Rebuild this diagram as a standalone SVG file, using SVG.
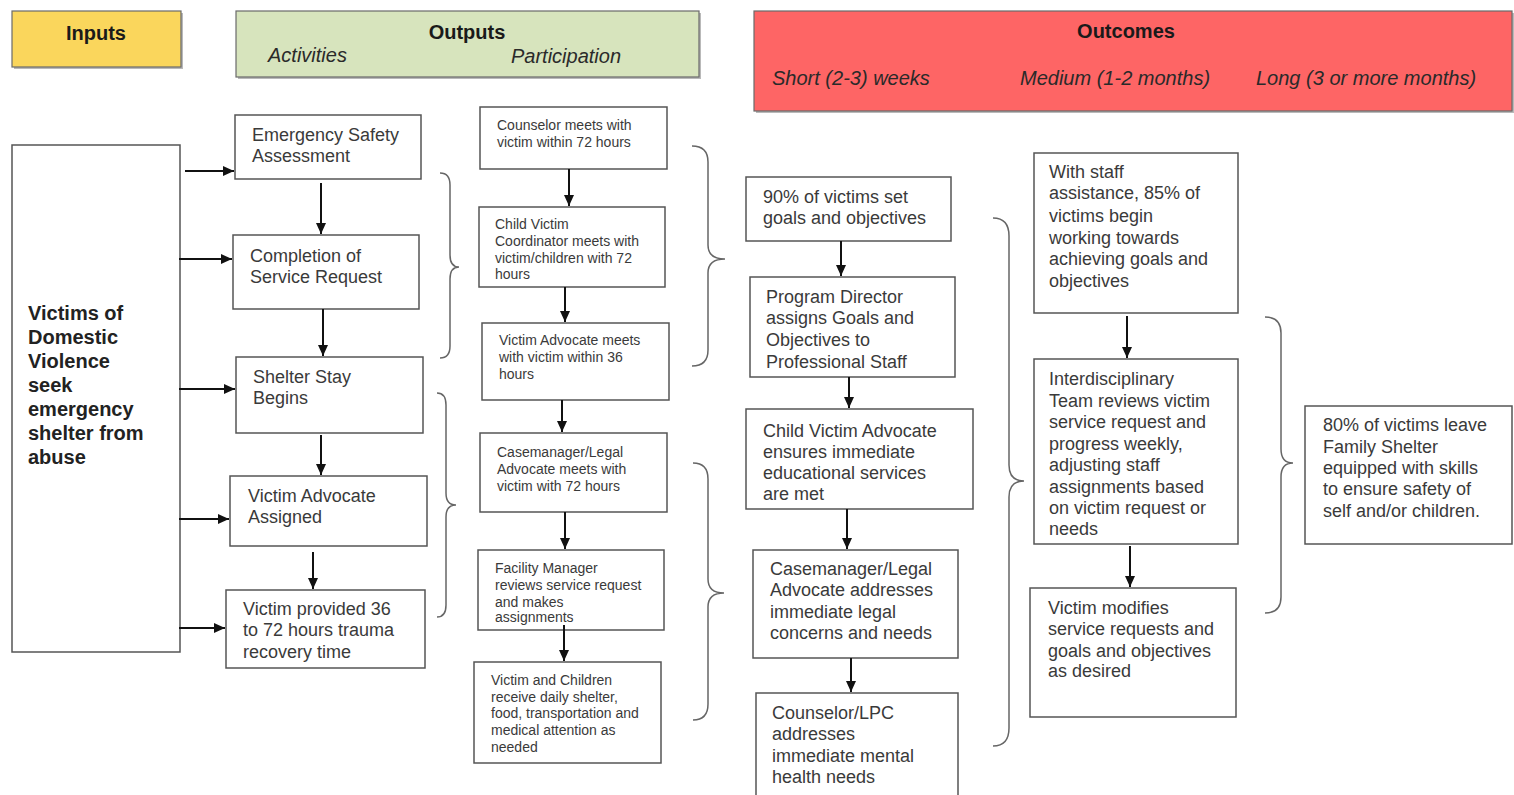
<svg xmlns="http://www.w3.org/2000/svg" width="1514" height="795" viewBox="0 0 1514 795">
<defs>
<style>
.box{fill:#fff;stroke:#555;stroke-width:1.5}
.t{font-family:"Liberation Sans",Arial,sans-serif;font-size:18px;fill:#3a3a3a}
.s{font-family:"Liberation Sans",Arial,sans-serif;font-size:14px;fill:#3a3a3a}
.h{font-family:"Liberation Sans",Arial,sans-serif;font-size:20px;font-weight:bold;fill:#1a1a1a}
.i{font-family:"Liberation Sans",Arial,sans-serif;font-size:20px;font-style:italic;fill:#2a2a2a}
.vb{font-family:"Liberation Sans",Arial,sans-serif;font-size:20px;font-weight:bold;fill:#222}
.ar{stroke:#111;stroke-width:2;fill:none;marker-end:url(#ah)}
.br{stroke:#666;stroke-width:1.5;fill:none}
.sh{fill:#8a8a8a;opacity:0.6}
</style>
<marker id="ah" markerUnits="userSpaceOnUse" markerWidth="11" markerHeight="10" refX="11" refY="5" orient="auto">
<path d="M0,0 L11,5 L0,10 z" fill="#111"/>
</marker>
</defs>
<rect width="1514" height="795" fill="#fff"/>

<g id="header-inputs">
<rect class="sh" x="14" y="13" width="169" height="56"/>
<rect x="12" y="11" width="169" height="56" fill="#fad65c" stroke="#6a6a6a" stroke-width="1.2"/>
<text class="h" x="96" y="40" text-anchor="middle">Inputs</text>
</g>
<g id="header-outputs">
<rect class="sh" x="238" y="13" width="463" height="66"/>
<rect x="236" y="11" width="463" height="66" fill="#d7e4bd" stroke="#6a6a6a" stroke-width="1.2"/>
<text class="h" x="467" y="39" text-anchor="middle">Outputs</text>
<text class="i" x="268" y="62">Activities</text>
<text class="i" x="511" y="63">Participation</text>
</g>
<g id="header-outcomes">
<rect class="sh" x="756" y="13" width="758" height="100"/>
<rect x="754" y="11" width="758" height="100" fill="#fe6565" stroke="#6a6a6a" stroke-width="1.2"/>
<text class="h" x="1126" y="38" text-anchor="middle">Outcomes</text>
<text class="i" x="772" y="85">Short (2-3) weeks</text>
<text class="i" x="1020" y="85">Medium (1-2 months)</text>
<text class="i" x="1256" y="85">Long (3 or more months)</text>
</g>

<g id="victims">
<rect class="box" x="12" y="145" width="168" height="507"/>
<text class="vb"><tspan x="28" y="320">Victims of</tspan><tspan x="28" y="344">Domestic</tspan><tspan x="28" y="368">Violence</tspan><tspan x="28" y="392">seek</tspan><tspan x="28" y="416">emergency</tspan><tspan x="28" y="440">shelter from</tspan><tspan x="28" y="464">abuse</tspan></text>
</g>

<g id="a-esa">
<rect class="box" x="235" y="115" width="186" height="64"/>
<text class="t"><tspan x="252" y="141">Emergency Safety</tspan><tspan x="252" y="162">Assessment</tspan></text>
</g>
<g id="a-completion">
<rect class="box" x="233" y="235" width="186" height="74"/>
<text class="t"><tspan x="250" y="262">Completion of</tspan><tspan x="250" y="283">Service Request</tspan></text>
</g>
<g id="a-shelter">
<rect class="box" x="236" y="357" width="187" height="76"/>
<text class="t"><tspan x="253" y="383">Shelter Stay</tspan><tspan x="253" y="404">Begins</tspan></text>
</g>
<g id="a-advocate">
<rect class="box" x="230" y="476" width="197" height="70"/>
<text class="t"><tspan x="248" y="502">Victim Advocate</tspan><tspan x="248" y="523">Assigned</tspan></text>
</g>
<g id="a-recovery">
<rect class="box" x="226" y="590" width="199" height="78"/>
<text class="t"><tspan x="243" y="615">Victim provided 36</tspan><tspan x="243" y="636">to 72 hours trauma</tspan><tspan x="243" y="658">recovery time</tspan></text>
</g>

<g id="p-counselor">
<rect class="box" x="480" y="107" width="187" height="62"/>
<text class="s"><tspan x="497" y="130">Counselor meets with</tspan><tspan x="497" y="147">victim within 72 hours</tspan></text>
</g>
<g id="p-child">
<rect class="box" x="479" y="207" width="186" height="80"/>
<text class="s"><tspan x="495" y="229">Child Victim</tspan><tspan x="495" y="246">Coordinator meets with</tspan><tspan x="495" y="263">victim/children with 72</tspan><tspan x="495" y="279">hours</tspan></text>
</g>
<g id="p-advocate">
<rect class="box" x="482" y="323" width="187" height="77"/>
<text class="s"><tspan x="499" y="345">Victim Advocate meets</tspan><tspan x="499" y="362">with victim within 36</tspan><tspan x="499" y="379">hours</tspan></text>
</g>
<g id="p-casemanager">
<rect class="box" x="480" y="433" width="187" height="79"/>
<text class="s"><tspan x="497" y="457">Casemanager/Legal</tspan><tspan x="497" y="474">Advocate meets with</tspan><tspan x="497" y="491">victim with 72 hours</tspan></text>
</g>
<g id="p-facility">
<rect class="box" x="478" y="550" width="186" height="80"/>
<text class="s"><tspan x="495" y="573">Facility Manager</tspan><tspan x="495" y="590">reviews service request</tspan><tspan x="495" y="607">and makes</tspan><tspan x="495" y="622">assignments</tspan></text>
</g>
<g id="p-daily">
<rect class="box" x="474" y="662" width="187" height="101"/>
<text class="s"><tspan x="491" y="685">Victim and Children</tspan><tspan x="491" y="702">receive daily shelter,</tspan><tspan x="491" y="718">food, transportation and</tspan><tspan x="491" y="735">medical attention as</tspan><tspan x="491" y="752">needed</tspan></text>
</g>

<g id="s-goals">
<rect class="box" x="746" y="177" width="205" height="64"/>
<text class="t"><tspan x="763" y="203">90% of victims set</tspan><tspan x="763" y="224">goals and objectives</tspan></text>
</g>
<g id="s-director">
<rect class="box" x="750" y="277" width="205" height="100"/>
<text class="t"><tspan x="766" y="303">Program Director</tspan><tspan x="766" y="324">assigns Goals and</tspan><tspan x="766" y="346">Objectives to</tspan><tspan x="766" y="368">Professional Staff</tspan></text>
</g>
<g id="s-child">
<rect class="box" x="746" y="409" width="227" height="100"/>
<text class="t"><tspan x="763" y="437">Child Victim Advocate</tspan><tspan x="763" y="458">ensures immediate</tspan><tspan x="763" y="479">educational services</tspan><tspan x="763" y="500">are met</tspan></text>
</g>
<g id="s-legal">
<rect class="box" x="753" y="550" width="205" height="108"/>
<text class="t"><tspan x="770" y="575">Casemanager/Legal</tspan><tspan x="770" y="596">Advocate addresses</tspan><tspan x="770" y="618">immediate legal</tspan><tspan x="770" y="639">concerns and needs</tspan></text>
</g>
<g id="s-lpc">
<rect class="box" x="756" y="693" width="202" height="115"/>
<text class="t"><tspan x="772" y="719">Counselor/LPC</tspan><tspan x="772" y="740">addresses</tspan><tspan x="772" y="762">immediate mental</tspan><tspan x="772" y="783">health needs</tspan></text>
</g>

<g id="m-working">
<rect class="box" x="1034" y="153" width="204" height="160"/>
<text class="t"><tspan x="1049" y="178">With staff</tspan><tspan x="1049" y="199">assistance, 85% of</tspan><tspan x="1049" y="222">victims begin</tspan><tspan x="1049" y="244">working towards</tspan><tspan x="1049" y="265">achieving goals and</tspan><tspan x="1049" y="287">objectives</tspan></text>
</g>
<g id="m-team">
<rect class="box" x="1034" y="359" width="204" height="185"/>
<text class="t"><tspan x="1049" y="385">Interdisciplinary</tspan><tspan x="1049" y="407">Team reviews victim</tspan><tspan x="1049" y="428">service request and</tspan><tspan x="1049" y="450">progress weekly,</tspan><tspan x="1049" y="471">adjusting staff</tspan><tspan x="1049" y="493">assignments based</tspan><tspan x="1049" y="514">on victim request or</tspan><tspan x="1049" y="535">needs</tspan></text>
</g>
<g id="m-modifies">
<rect class="box" x="1030" y="588" width="206" height="129"/>
<text class="t"><tspan x="1048" y="614">Victim modifies</tspan><tspan x="1048" y="635">service requests and</tspan><tspan x="1048" y="657">goals and objectives</tspan><tspan x="1048" y="677">as desired</tspan></text>
</g>

<g id="l-leave">
<rect class="box" x="1305" y="406" width="207" height="138"/>
<text class="t"><tspan x="1323" y="431">80% of victims leave</tspan><tspan x="1323" y="453">Family Shelter</tspan><tspan x="1323" y="474">equipped with skills</tspan><tspan x="1323" y="495">to ensure safety of</tspan><tspan x="1323" y="517">self and/or children.</tspan></text>
</g>

<g id="connectors">
<line class="ar" x1="185" y1="171" x2="234" y2="171"/>
<line class="ar" x1="179" y1="259" x2="232" y2="259"/>
<line class="ar" x1="179" y1="389" x2="235" y2="389"/>
<line class="ar" x1="179" y1="519" x2="229" y2="519"/>
<line class="ar" x1="179" y1="628" x2="225" y2="628"/>
<line class="ar" x1="321" y1="183" x2="321" y2="234"/>
<line class="ar" x1="323" y1="309" x2="323" y2="356"/>
<line class="ar" x1="321" y1="435" x2="321" y2="475"/>
<line class="ar" x1="313" y1="552" x2="313" y2="589"/>
<line class="ar" x1="569" y1="169" x2="569" y2="206"/>
<line class="ar" x1="565" y1="287" x2="565" y2="322"/>
<line class="ar" x1="562" y1="400" x2="562" y2="432"/>
<line class="ar" x1="565" y1="512" x2="565" y2="549"/>
<line class="ar" x1="564" y1="625" x2="564" y2="661"/>
<line class="ar" x1="841" y1="241" x2="841" y2="276"/>
<line class="ar" x1="849" y1="377" x2="849" y2="408"/>
<line class="ar" x1="847" y1="509" x2="847" y2="549"/>
<line class="ar" x1="851" y1="658" x2="851" y2="692"/>
<line class="ar" x1="1127" y1="316" x2="1127" y2="358"/>
<line class="ar" x1="1130" y1="546" x2="1130" y2="587"/>
<path class="br" d="M440,173 Q450,173 450,185 L450,255 Q450,267 459,267 Q450,267 450,279 L450,346 Q450,358 440,358"/>
<path class="br" d="M437,393 Q446,393 446,405 L446,493 Q446,505 456,505 Q446,505 446,517 L446,605 Q446,617 437,617"/>
<path class="br" d="M692,146 Q708,146 708,162 L708,245 Q708,259 725,259 Q708,259 708,273 L708,350 Q708,366 692,366"/>
<path class="br" d="M693,463 Q708,463 708,479 L708,579 Q708,593 724,593 Q708,593 708,607 L708,704 Q708,720 693,720"/>
<path class="br" d="M993,218 Q1009,218 1009,236 L1009,465 Q1009,481 1024,481 Q1009,481 1009,497 L1009,728 Q1009,746 993,746"/>
<path class="br" d="M1265,317 Q1281,317 1281,333 L1281,449 Q1281,463 1293,463 Q1281,463 1281,477 L1281,597 Q1281,613 1265,613"/>
</g>
</svg>
